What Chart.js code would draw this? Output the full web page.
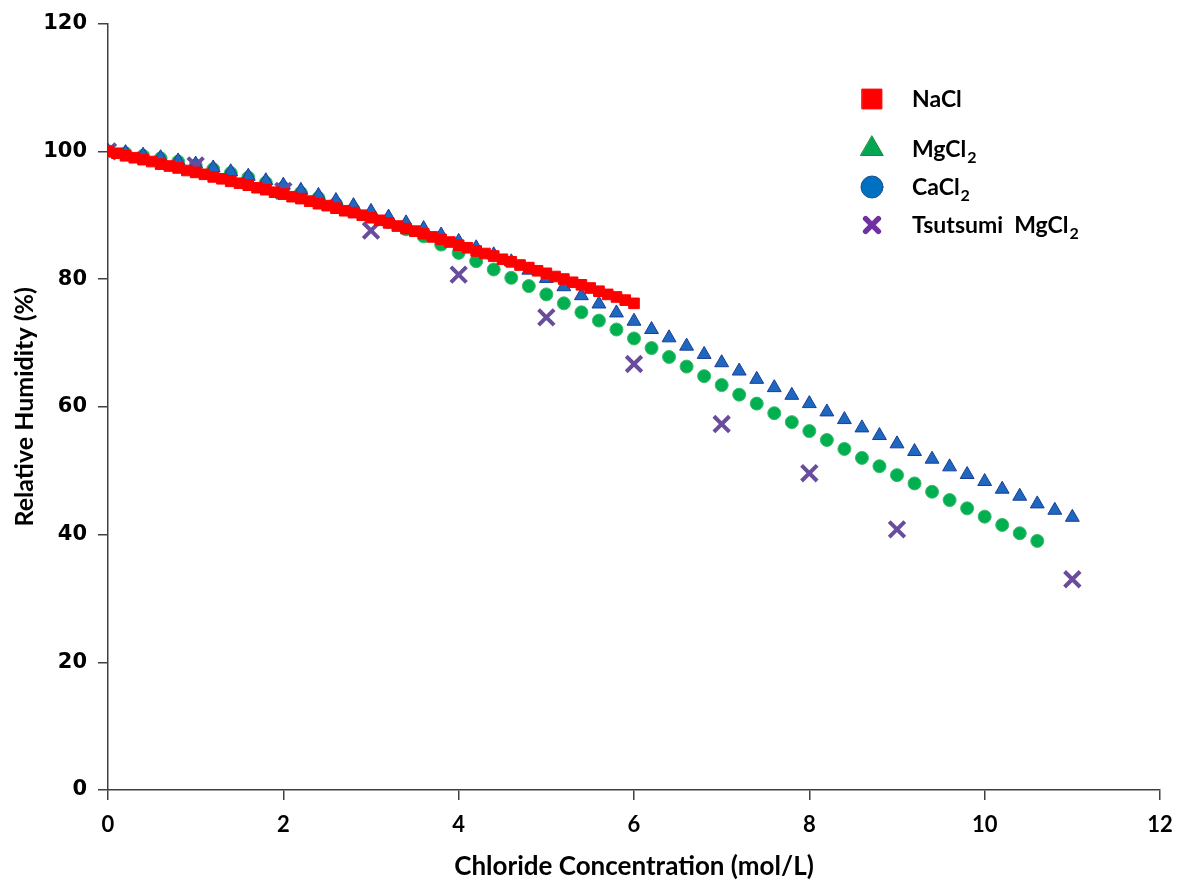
<!DOCTYPE html>
<html>
<head>
<meta charset="utf-8">
<title>Relative Humidity vs Chloride Concentration</title>
<script src="https://cdn.jsdelivr.net/npm/chart.js@4/dist/chart.umd.min.js"></script>
<style>
  html, body { margin: 0; padding: 0; background: #fff; }
  #wrap { width: 1185px; height: 882px; }
</style>
</head>
<body>
<div id="wrap"><canvas id="myChart" width="1185" height="882"></canvas></div>
<script>
// NaCl, every 0.1 mol/L
var naclX = [0.0, 0.1, 0.2, 0.3, 0.4, 0.5, 0.6, 0.7, 0.8, 0.9, 1.0,
  1.1, 1.2, 1.3, 1.4, 1.5, 1.6, 1.7, 1.8, 1.9, 2.0,
  2.1, 2.2, 2.3, 2.4, 2.5, 2.6, 2.7, 2.8, 2.9, 3.0,
  3.1, 3.2, 3.3, 3.4, 3.5, 3.6, 3.7, 3.8, 3.9, 4.0,
  4.1, 4.2, 4.3, 4.4, 4.5, 4.6, 4.7, 4.8, 4.9, 5.0,
  5.1, 5.2, 5.3, 5.4, 5.5, 5.6, 5.7, 5.8, 5.9, 6.0];
var naclRH = [100.0, 99.7, 99.3, 99.0, 98.7, 98.4, 98.0, 97.7, 97.4, 97.0, 96.7,
  96.4, 96.0, 95.7, 95.3, 95.0, 94.7, 94.3, 94.0, 93.6, 93.3,
  92.9, 92.6, 92.2, 91.8, 91.5, 91.1, 90.7, 90.4, 90.0, 89.6,
  89.2, 88.8, 88.3, 87.9, 87.5, 87.1, 86.6, 86.2, 85.8, 85.3,
  84.9, 84.4, 84.0, 83.6, 83.1, 82.7, 82.2, 81.8, 81.3, 80.9,
  80.4, 80.0, 79.5, 79.1, 78.6, 78.1, 77.6, 77.2, 76.7, 76.2];

// triangle series, every 0.2 mol/L up to 11
var triX = [0.0, 0.2, 0.4, 0.6, 0.8, 1.0, 1.2, 1.4, 1.6, 1.8, 2.0, 2.2, 2.4, 2.6,
  2.8, 3.0, 3.2, 3.4, 3.6, 3.8, 4.0, 4.2, 4.4, 4.6, 4.8, 5.0, 5.2, 5.4,
  5.6, 5.8, 6.0, 6.2, 6.4, 6.6, 6.8, 7.0, 7.2, 7.4, 7.6, 7.8, 8.0, 8.2,
  8.4, 8.6, 8.8, 9.0, 9.2, 9.4, 9.6, 9.8, 10.0, 10.2, 10.4, 10.6, 10.8, 11.0];
var triRH = [100.0, 99.8, 99.4, 99.0, 98.5, 98.0, 97.4, 96.8, 96.1, 95.4, 94.7, 93.9, 93.1, 92.3,
  91.5, 90.6, 89.7, 88.8, 87.9, 86.9, 85.9, 84.9, 83.8, 82.7, 81.4, 80.1, 78.8, 77.4,
  76.1, 74.7, 73.4, 72.1, 70.8, 69.5, 68.2, 66.9, 65.6, 64.3, 63.0, 61.8, 60.5, 59.2,
  58.0, 56.7, 55.5, 54.2, 53.0, 51.8, 50.6, 49.4, 48.3, 47.1, 46.0, 44.8, 43.8, 42.7];

// circle series, every 0.2 mol/L up to 10.6
var circX = [0.0, 0.2, 0.4, 0.6, 0.8, 1.0, 1.2, 1.4, 1.6, 1.8, 2.0, 2.2, 2.4, 2.6,
  2.8, 3.0, 3.2, 3.4, 3.6, 3.8, 4.0, 4.2, 4.4, 4.6, 4.8, 5.0, 5.2, 5.4,
  5.6, 5.8, 6.0, 6.2, 6.4, 6.6, 6.8, 7.0, 7.2, 7.4, 7.6, 7.8, 8.0, 8.2,
  8.4, 8.6, 8.8, 9.0, 9.2, 9.4, 9.6, 9.8, 10.0, 10.2, 10.4, 10.6];
var circRH = [100.0, 99.7, 99.3, 98.9, 98.4, 97.8, 97.2, 96.6, 95.9, 95.1, 94.3, 93.5, 92.7, 91.8,
  90.9, 89.9, 88.9, 87.8, 86.7, 85.4, 84.1, 82.8, 81.5, 80.2, 78.9, 77.6, 76.2, 74.8,
  73.5, 72.1, 70.7, 69.2, 67.8, 66.3, 64.8, 63.4, 61.9, 60.5, 59.0, 57.6, 56.2, 54.8,
  53.4, 52.0, 50.7, 49.3, 48.0, 46.7, 45.4, 44.1, 42.8, 41.5, 40.2, 39.0];

// Tsutsumi MgCl2 measurements
var tsuX = [0, 1, 2, 3, 4, 5, 6, 7, 8, 9, 11];
var tsuRH = [100.0, 97.8, 93.8, 87.6, 80.7, 74.0, 66.7, 57.3, 49.6, 40.8, 33.0];

var xTicks = [0, 2, 4, 6, 8, 10, 12];
var yTicks = [0, 20, 40, 60, 80, 100, 120];

function pts(xs, ys) {
  return xs.map(function (x, i) { return { x: x, y: ys[i] }; });
}

var axisColor = '#404040';
var labelFont = "Lato, 'Open Sans', sans-serif";

// legend inside the plot, drawn by hand so the subscripts come out right
var legendRows = [
  { text: 'NaCl', sub: '', y: 99, pointStyle: 'rect', radius: 14, fill: '#ff0000', stroke: '#ff0000', lw: 1 },
  { text: 'MgCl', sub: '2', y: 149, pointStyle: 'triangle', radius: 13, fill: '#00a651', stroke: '#1a8a3a', lw: 1 },
  { text: 'CaCl', sub: '2', y: 187, pointStyle: 'circle', radius: 11, fill: '#0070c0', stroke: '#1f4e8c', lw: 1 },
  { text: 'Tsutsumi  MgCl', sub: '2', y: 225, pointStyle: 'crossRot', radius: 9, fill: '#7030a0', stroke: '#7030a0', lw: 5.5 }
];

var insideLegend = {
  id: 'insideLegend',
  afterDraw: function (chart) {
    var ctx = chart.ctx;
    ctx.save();
    legendRows.forEach(function (row) {
      ctx.fillStyle = row.fill;
      ctx.strokeStyle = row.stroke;
      ctx.lineWidth = row.lw;
      ctx.lineCap = 'round';
      Chart.helpers.drawPoint(ctx, { pointStyle: row.pointStyle, radius: row.radius, rotation: 0, borderWidth: row.lw }, 872, row.y);
      ctx.fillStyle = '#000';
      ctx.textBaseline = 'middle';
      ctx.textAlign = 'left';
      ctx.font = 'bold 23px ' + labelFont;
      ctx.fillText(row.text, 912, row.y + 1);
      if (row.sub) {
        var w = ctx.measureText(row.text).width;
        ctx.font = 'bold 16px ' + labelFont;
        ctx.fillText(row.sub, 912 + w + 1, row.y + 9);
      }
    });
    ctx.restore();
  }
};

var ctx = document.getElementById('myChart').getContext('2d');
var chart = new Chart(ctx, {
  type: 'scatter',
  data: {
    datasets: [{
      label: 'NaCl',
      data: pts(naclX, naclRH),
      pointStyle: 'rect',
      pointRadius: 7.5,
      backgroundColor: '#ff0000',
      borderColor: '#ff0000',
      borderWidth: 1
    }, {
      label: 'Tsutsumi MgCl2',
      data: pts(tsuX, tsuRH),
      pointStyle: 'crossRot',
      pointRadius: 11,
      backgroundColor: '#6a4c9c',
      borderColor: '#6a4c9c',
      borderWidth: 4
    }, {
      label: 'CaCl2',
      data: pts(triX, triRH),
      pointStyle: 'triangle',
      pointRadius: 8,
      backgroundColor: '#1f68c0',
      borderColor: '#1c3c94',
      borderWidth: 1
    }, {
      label: 'MgCl2',
      data: pts(circX, circRH),
      pointStyle: 'circle',
      pointRadius: 6.5,
      backgroundColor: '#00b050',
      borderColor: '#3dbb6a',
      borderWidth: 1
    }]
  },
  options: {
    responsive: false,
    animation: false,
    devicePixelRatio: 1,
    layout: { padding: { top: 22, right: 25, left: 0, bottom: 0 } },
    plugins: {
      legend: { display: false },
      tooltip: { enabled: false }
    },
    scales: {
      x: {
        type: 'linear',
        min: 0,
        max: 12,
        afterBuildTicks: function (scale) {
          scale.ticks = xTicks.map(function (v) { return { value: v }; });
        },
        afterFit: function (scale) { scale.height = 92; },
        grid: { drawOnChartArea: false, drawTicks: true, tickLength: 10, color: axisColor, lineWidth: 1.5 },
        border: { color: axisColor, width: 1.5 },
        ticks: { color: '#000', padding: 12, font: { family: labelFont, size: 22, weight: 'bold' } },
        title: {
          display: true,
          text: 'Chloride Concentration (mol/L)',
          color: '#000',
          padding: { top: 4, bottom: 0 },
          font: { family: labelFont, size: 26, weight: 'bold' }
        }
      },
      y: {
        type: 'linear',
        min: 0,
        max: 120,
        afterBuildTicks: function (scale) {
          scale.ticks = yTicks.map(function (v) { return { value: v }; });
        },
        afterFit: function (scale) { scale.width = 108; },
        grid: { drawOnChartArea: false, drawTicks: true, tickLength: 10, color: axisColor, lineWidth: 1.5 },
        border: { color: axisColor, width: 1.5 },
        ticks: { color: '#000', padding: 11, font: { family: 'DejaVu Sans', size: 21, weight: 'bold' } },
        title: {
          display: true,
          text: 'Relative Humidity (%)',
          color: '#000',
          padding: { top: 10, bottom: 0 },
          font: { family: labelFont, size: 25, weight: 'bold' }
        }
      }
    }
  },
  plugins: [insideLegend]
});
</script>
</body>
</html>
